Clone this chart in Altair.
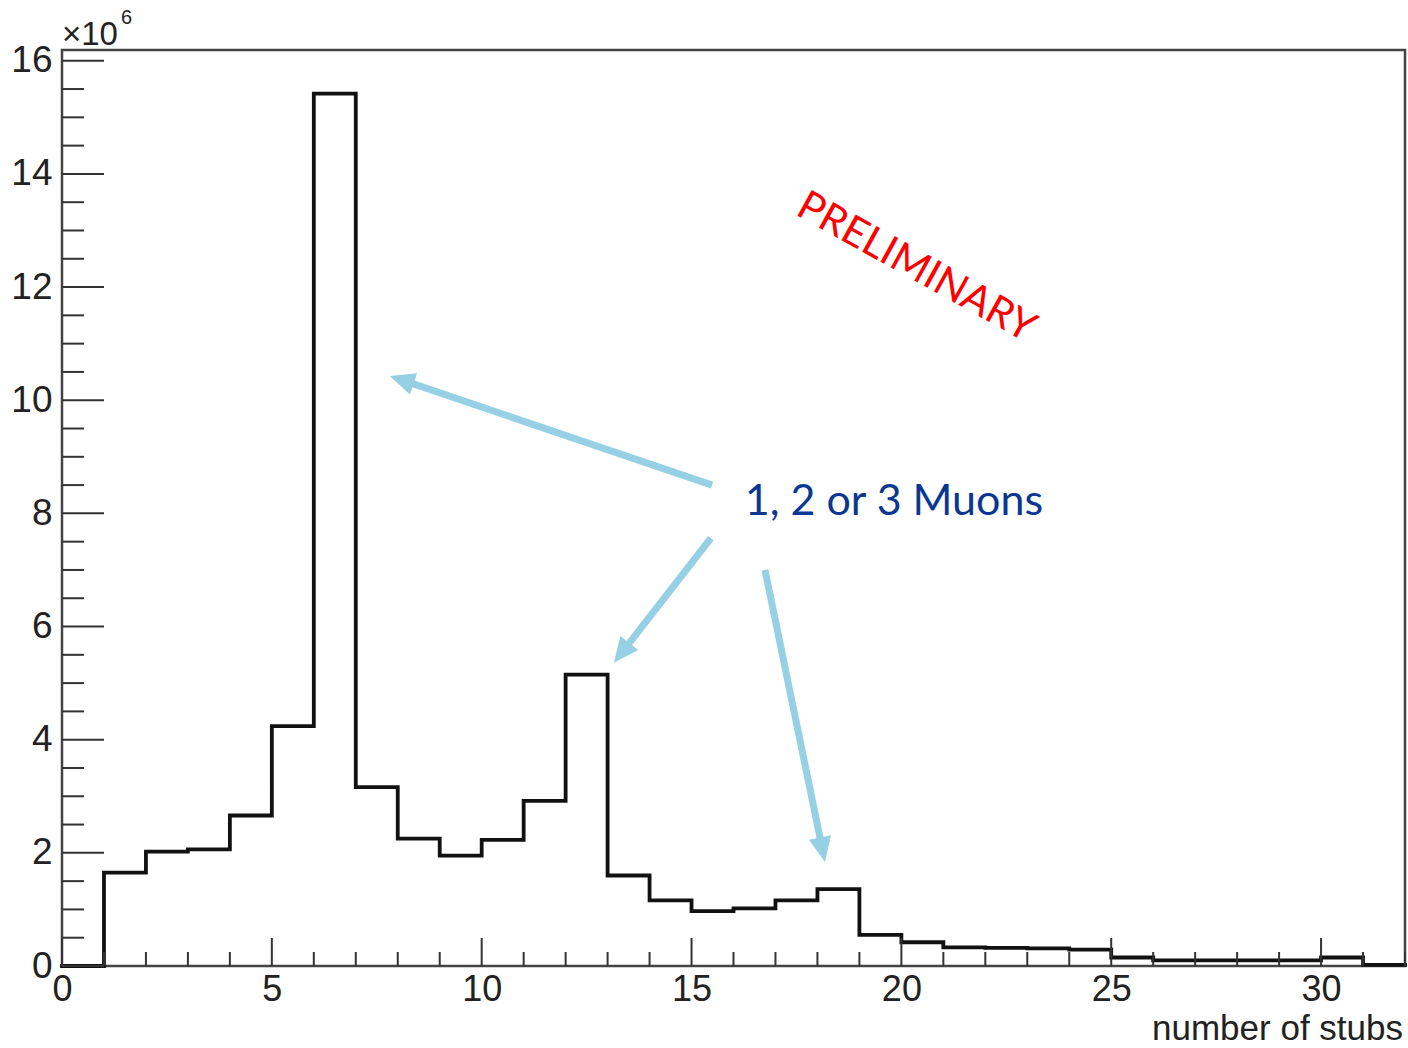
import math
import altair as alt
import pandas as pd

# Number of stubs per event: unit-width bins from 0 to 32, counts in units of 10^6
bin_low = list(range(32))
counts = [0.00, 1.65, 2.02, 2.06, 2.66, 4.24, 15.42, 3.16, 2.25, 1.95,
          2.23, 2.92, 5.15, 1.60, 1.16, 0.97, 1.02, 1.16, 1.36, 0.55,
          0.42, 0.33, 0.32, 0.31, 0.29, 0.15, 0.10, 0.10, 0.10, 0.10,
          0.15, 0.02]

# Axis tick positions
x_major = [0, 5, 10, 15, 20, 25, 30]
x_minor = [v for v in range(33) if v % 5 != 0]
y_major = [0, 2, 4, 6, 8, 10, 12, 14, 16]
y_minor = [v / 2 for v in range(33) if v % 4 != 0]

# Annotation arrows (data coordinates): tail -> tip
arrow_tail_x = [15.49, 15.46, 16.75]
arrow_tail_y = [8.50, 7.56, 7.00]
arrow_tip_x = [7.81, 13.15, 18.18]
arrow_tip_y = [10.43, 5.36, 1.84]

W, H = 1343, 916
X_MAX, Y_MAX = 32, 16.19
sx, sy = W / X_MAX, H / Y_MAX

xs = alt.Scale(domain=[0, X_MAX], nice=False, zero=False)
ys = alt.Scale(domain=[0, Y_MAX], nice=False, zero=False)

FONT = "Liberation Sans"
INK = "#222222"
ARROW = "#95D0E4"

# one axis definition shared by every layer so the merged axis keeps its labels
x_axis = alt.Axis(
    values=x_major, format="d", ticks=False, tickSize=0, domain=False,
    grid=False, labelFont=FONT, labelFontSize=36, labelColor=INK,
    labelPadding=6, labelFlush=False, title=None)
y_axis = alt.Axis(
    values=y_major, format="d", ticks=False, tickSize=0, domain=False,
    grid=False, labelFont=FONT, labelFontSize=37, labelColor=INK,
    labelPadding=10, labelFlush=False, title=None)


def X(field):
    return alt.X(field, scale=xs, axis=x_axis)


def Y(field):
    return alt.Y(field, scale=ys, axis=y_axis)


# histogram outline as a step line over the bin edges
hist = pd.DataFrame({
    "edge": bin_low + [X_MAX],
    "count": counts + [counts[-1]],
})

step = alt.Chart(hist).mark_line(
    interpolate="step-after", color="#111111", strokeWidth=3.8,
    strokeJoin="miter", strokeCap="square"
).encode(x=X("edge:Q"), y=Y("count:Q"))

# inward-pointing ticks
tick_color = "#333333"
yt_major = alt.Chart(pd.DataFrame({"v": y_major})).mark_rule(
    color=tick_color, strokeWidth=2).encode(
    y=Y("v:Q"), x=alt.value(0), x2=alt.value(42))
yt_minor = alt.Chart(pd.DataFrame({"v": y_minor})).mark_rule(
    color=tick_color, strokeWidth=2).encode(
    y=Y("v:Q"), x=alt.value(0), x2=alt.value(22))
xt_major = alt.Chart(pd.DataFrame({"v": x_major})).mark_rule(
    color=tick_color, strokeWidth=2).encode(
    x=X("v:Q"), y=alt.value(H), y2=alt.value(H - 28))
xt_minor = alt.Chart(pd.DataFrame({"v": x_minor})).mark_rule(
    color=tick_color, strokeWidth=2).encode(
    x=X("v:Q"), y=alt.value(H), y2=alt.value(H - 14))

# arrows: shaft stops a little behind the tip, head rotated toward the tip
rows = []
for tx, ty, hx, hy in zip(arrow_tail_x, arrow_tail_y, arrow_tip_x, arrow_tip_y):
    dx = (hx - tx) * sx
    dy = -(hy - ty) * sy
    length = math.hypot(dx, dy)
    back = 18
    rows.append({
        "tx": tx, "ty": ty, "hx": hx, "hy": hy,
        "ex": hx - dx / length * back / sx,
        "ey": hy + dy / length * back / sy,
        "ang": math.degrees(math.atan2(dx, -dy)) % 360,
    })
arrows = pd.DataFrame(rows)

shafts = alt.Chart(arrows).mark_rule(color=ARROW, strokeWidth=7).encode(
    x=X("tx:Q"), y=Y("ty:Q"), x2="ex:Q", y2="ey:Q")
heads = alt.Chart(arrows).mark_point(
    shape="M0,0 L0.9,2 L-0.9,2 Z", filled=True, size=625, color=ARROW, opacity=1
).encode(x=X("hx:Q"), y=Y("hy:Q"), angle=alt.Angle("ang:Q", scale=None))

label = alt.Chart(pd.DataFrame({"x": [16.27], "y": [7.97], "t": ["1, 2 or 3 Muons"]})).mark_text(
    font="Lato", fontSize=43, color="#0A3791", align="left", baseline="alphabetic"
).encode(x=X("x:Q"), y=Y("y:Q"), text="t:N")

prelim = alt.Chart(pd.DataFrame({"x": [20.35], "y": [12.34], "t": ["PRELIMINARY"]})).mark_text(
    font="Lato", fontSize=41, color="#FF0000", align="center", baseline="middle", angle=29
).encode(x=X("x:Q"), y=Y("y:Q"), text="t:N")

# exponent label above the y axis and x axis title at the lower right
expo = alt.Chart(pd.DataFrame({"t": ["\u00d710"]})).mark_text(
    font=FONT, fontSize=33, color=INK, align="left", baseline="alphabetic"
).encode(x=alt.value(0), y=alt.value(-5), text="t:N")
expo6 = alt.Chart(pd.DataFrame({"t": ["6"]})).mark_text(
    font=FONT, fontSize=20, color=INK, align="left", baseline="alphabetic"
).encode(x=alt.value(59), y=alt.value(-26), text="t:N")
xtitle = alt.Chart(pd.DataFrame({"t": ["number of stubs"]})).mark_text(
    font=FONT, fontSize=35, color=INK, align="right", baseline="alphabetic"
).encode(x=alt.value(W - 2), y=alt.value(H + 74), text="t:N")

chart = alt.layer(
    step, yt_major, yt_minor, xt_major, xt_minor,
    shafts, heads, label, prelim, expo, expo6, xtitle
).properties(
    width=W, height=H,
    padding={"left": 62, "top": 50, "right": 3, "bottom": 82},
    autosize=alt.AutoSizeParams(type="none"),
    background="white",
).configure_view(stroke="#444444", strokeWidth=2.5)

chart.save("out.html", embed_options={"renderer": "svg", "actions": False})
